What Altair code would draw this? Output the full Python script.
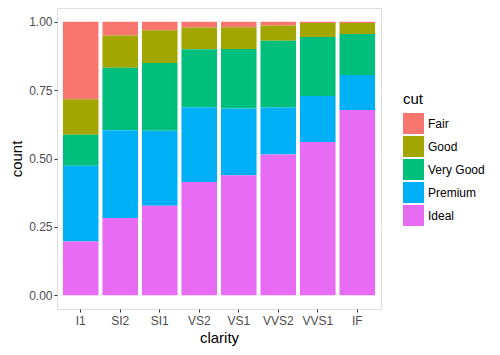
import altair as alt
import pandas as pd

clarity = ["I1", "SI2", "SI1", "VS2", "VS1", "VVS2", "VVS1", "IF"]
cuts = ["Fair", "Good", "Very Good", "Premium", "Ideal"]
colors = ["#F8766D", "#A3A500", "#00BF7D", "#00B0F6", "#E76BF3"]

fair = [210, 466, 408, 261, 170, 69, 17, 9]
good = [96, 1081, 1560, 978, 648, 286, 186, 71]
very_good = [84, 2100, 3240, 2591, 1775, 1235, 789, 268]
premium = [205, 2949, 3575, 3357, 1989, 870, 616, 230]
ideal = [146, 2598, 4282, 5071, 3589, 2606, 2047, 1212]

y_ticks = [0, 0.25, 0.5, 0.75, 1.0]
y_minor = [0.125, 0.375, 0.625, 0.875]

series = {"Fair": fair, "Good": good, "Very Good": very_good,
          "Premium": premium, "Ideal": ideal}
rows = []
for cut, vals in series.items():
    for c, v in zip(clarity, vals):
        rows.append({"clarity": c, "cut": cut, "count": v,
                     "ord": len(cuts) - 1 - cuts.index(cut)})
df = pd.DataFrame(rows)
minor_df = pd.DataFrame({"y": y_minor})

FONT = "Liberation Sans"
yscale = alt.Scale(domain=[-0.05, 1.05], nice=False, zero=False)
yaxis = alt.Axis(title="count", values=y_ticks, format=".2f",
                 formatType="number",
                 domain=False, tickSize=3, tickColor="#333333",
                 labelColor="#4D4D4D", labelFontSize=12,
                 labelPadding=2, titleFontSize=15,
                 titleFontWeight="normal", titleColor="black",
                 titlePadding=4, gridColor="white", gridWidth=1.1)

minor = alt.Chart(minor_df).mark_rule(color="white", strokeWidth=0.55).encode(
    y=alt.Y("y:Q", scale=yscale, axis=yaxis, title="count")
)

bars = alt.Chart(df).mark_bar().encode(
    x=alt.X("clarity:N", sort=clarity,
            scale=alt.Scale(paddingInner=0.1, paddingOuter=0.15),
            axis=alt.Axis(title="clarity", labelAngle=0, grid=True,
                          bandPosition=0.5, domain=False, tickSize=3,
                          tickColor="#333333", labelColor="#4D4D4D",
                          labelFontSize=12, labelPadding=3,
                          titleFontSize=15, titleFontWeight="normal",
                          titleColor="black", titlePadding=4,
                          gridColor="white", gridWidth=1.1)),
    y=alt.Y("count:Q", stack="normalize", scale=yscale, axis=yaxis),
    color=alt.Color("cut:N", scale=alt.Scale(domain=cuts, range=colors),
                    legend=alt.Legend(title="cut", orient="none",
                                      legendX=346, legendY=84,
                                      symbolType="square", symbolSize=441,
                                      symbolStrokeWidth=0, symbolOpacity=1,
                                      rowPadding=2, labelFontSize=12,
                                      titleFontSize=15,
                                      titleFontWeight="normal",
                                      titlePadding=6, labelOffset=4)),
    order=alt.Order("ord:Q"),
)

chart = alt.layer(minor, bars).properties(
    width=324, height=301,
    autosize=alt.AutoSizeParams(type="none"),
    padding={"left": 49, "top": 0, "right": 111, "bottom": 38},
).configure_view(fill="#EBEBEB", strokeWidth=0, stroke="transparent").configure(
    font=FONT
).configure_axis(labelFont=FONT, titleFont=FONT).configure_legend(
    labelFont=FONT, titleFont=FONT, labelColor="black", titleColor="black"
)

chart.save("out.html", embed_options={"renderer": "svg", "actions": False})
